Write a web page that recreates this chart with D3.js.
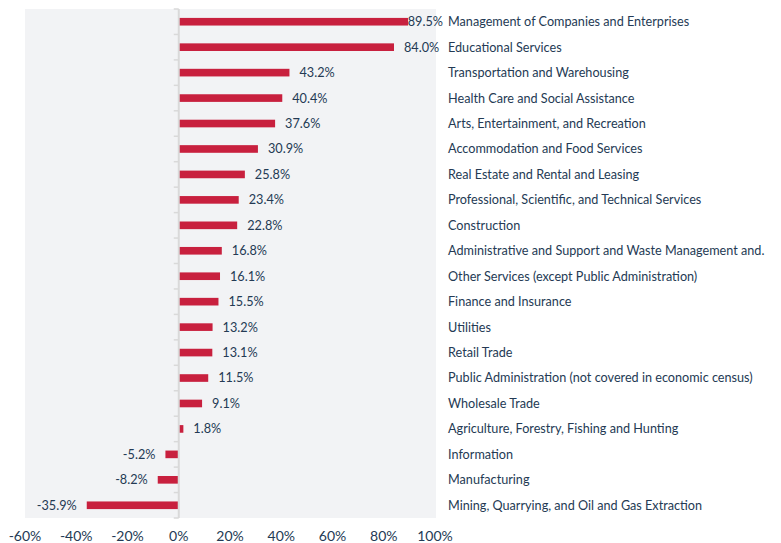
<!DOCTYPE html>
<html lang="en">
  <head>
    <meta charset="utf-8"/>
    <script src="https://d3js.org/d3.v7.min.js"></script>
    <style>
      body { margin: 0; background: #fff; }
      text { font-family: Lato, "Open Sans", sans-serif; fill: #243a54; }
    </style>
  </head>
  <body>
    <div id="chart"></div>
    <script>
    var categories = [
      "Management of Companies and Enterprises",
      "Educational Services",
      "Transportation and Warehousing",
      "Health Care and Social Assistance",
      "Arts, Entertainment, and Recreation",
      "Accommodation and Food Services",
      "Real Estate and Rental and Leasing",
      "Professional, Scientific, and Technical Services",
      "Construction",
      "Administrative and Support and Waste Management and.",
      "Other Services (except Public Administration)",
      "Finance and Insurance",
      "Utilities",
      "Retail Trade",
      "Public Administration (not covered in economic census)",
      "Wholesale Trade",
      "Agriculture, Forestry, Fishing and Hunting",
      "Information",
      "Manufacturing",
      "Mining, Quarrying, and Oil and Gas Extraction"
    ];
    var values = [89.5, 84.0, 43.2, 40.4, 37.6, 30.9, 25.8, 23.4, 22.8, 16.8,
                  16.1, 15.5, 13.2, 13.1, 11.5, 9.1, 1.8, -5.2, -8.2, -35.9];
    var ticks = [-60, -40, -20, 0, 20, 40, 60, 80, 100];

    var width = 781, height = 543;
    var plotL = 25, plotR = 435, plotT = 9, plotB = 518;

    var svg = d3.select("#chart").append("svg")
        .attr("width", width)
        .attr("height", height);

    var x = d3.scaleLinear().domain([-60, 100]).range([plotL, plotR]);
    var y = d3.scaleBand().domain(categories).range([plotT, plotB]).paddingInner(0.7).paddingOuter(0.35);
    var band = d3.scaleBand().domain(categories).range([plotT, plotB]);

    // plot background
    svg.append("rect")
        .attr("x", plotL).attr("y", plotT)
        .attr("width", plotR - plotL + 1).attr("height", plotB - plotT)
        .attr("fill", "#f2f3f5");

    // bars
    svg.selectAll(".bar").data(values).enter().append("rect")
        .attr("class", "bar")
        .attr("x", function(d) { return x(Math.min(0, d)); })
        .attr("y", function(d, i) { return y(categories[i]); })
        .attr("width", function(d) { return Math.abs(x(d) - x(0)); })
        .attr("height", y.bandwidth())
        .attr("fill", "#c8203e");

    // zero axis with ticks at band boundaries
    var zeroX = x(0);
    svg.append("line")
        .attr("x1", zeroX).attr("x2", zeroX)
        .attr("y1", plotT).attr("y2", plotB)
        .attr("stroke", "#d9d9d9").attr("stroke-width", 2);
    var bounds = categories.map(function(c) { return band(c); }).concat([plotB]);
    svg.selectAll(".tick").data(bounds).enter().append("line")
        .attr("x1", zeroX - 5).attr("x2", zeroX)
        .attr("y1", function(d) { return d; }).attr("y2", function(d) { return d; })
        .attr("stroke", "#d9d9d9").attr("stroke-width", 1.5);

    // value labels
    var labels = svg.selectAll(".val").data(values).enter().append("text")
        .attr("class", "val")
        .attr("y", function(d, i) { return band(categories[i]) + band.bandwidth() / 2; })
        .attr("dy", "0.35em")
        .style("font-size", "12.7px")
        .text(function(d) { return d.toFixed(1) + "%"; });
    labels.each(function(d) {
      var t = d3.select(this);
      var w = this.getComputedTextLength();
      if (d >= 0) {
        t.attr("x", Math.min(x(d) + 10, 443 - w));
      } else {
        t.attr("x", x(d) - 10).attr("text-anchor", "end");
      }
    });

    // category labels
    svg.selectAll(".cat").data(categories).enter().append("text")
        .attr("class", "cat")
        .attr("x", 448)
        .attr("y", function(d) { return band(d) + band.bandwidth() / 2; })
        .attr("dy", "0.35em")
        .style("font-size", "12.65px")
        .text(function(d) { return d; });

    // x axis labels
    svg.selectAll(".xl").data(ticks).enter().append("text")
        .attr("class", "xl")
        .attr("x", function(d) { return x(d); })
        .attr("y", 536)
        .attr("dy", "0.35em")
        .attr("text-anchor", "middle")
        .style("font-size", "14px")
        .text(function(d) { return d + "%"; });
    </script>
  </body>
</html>
